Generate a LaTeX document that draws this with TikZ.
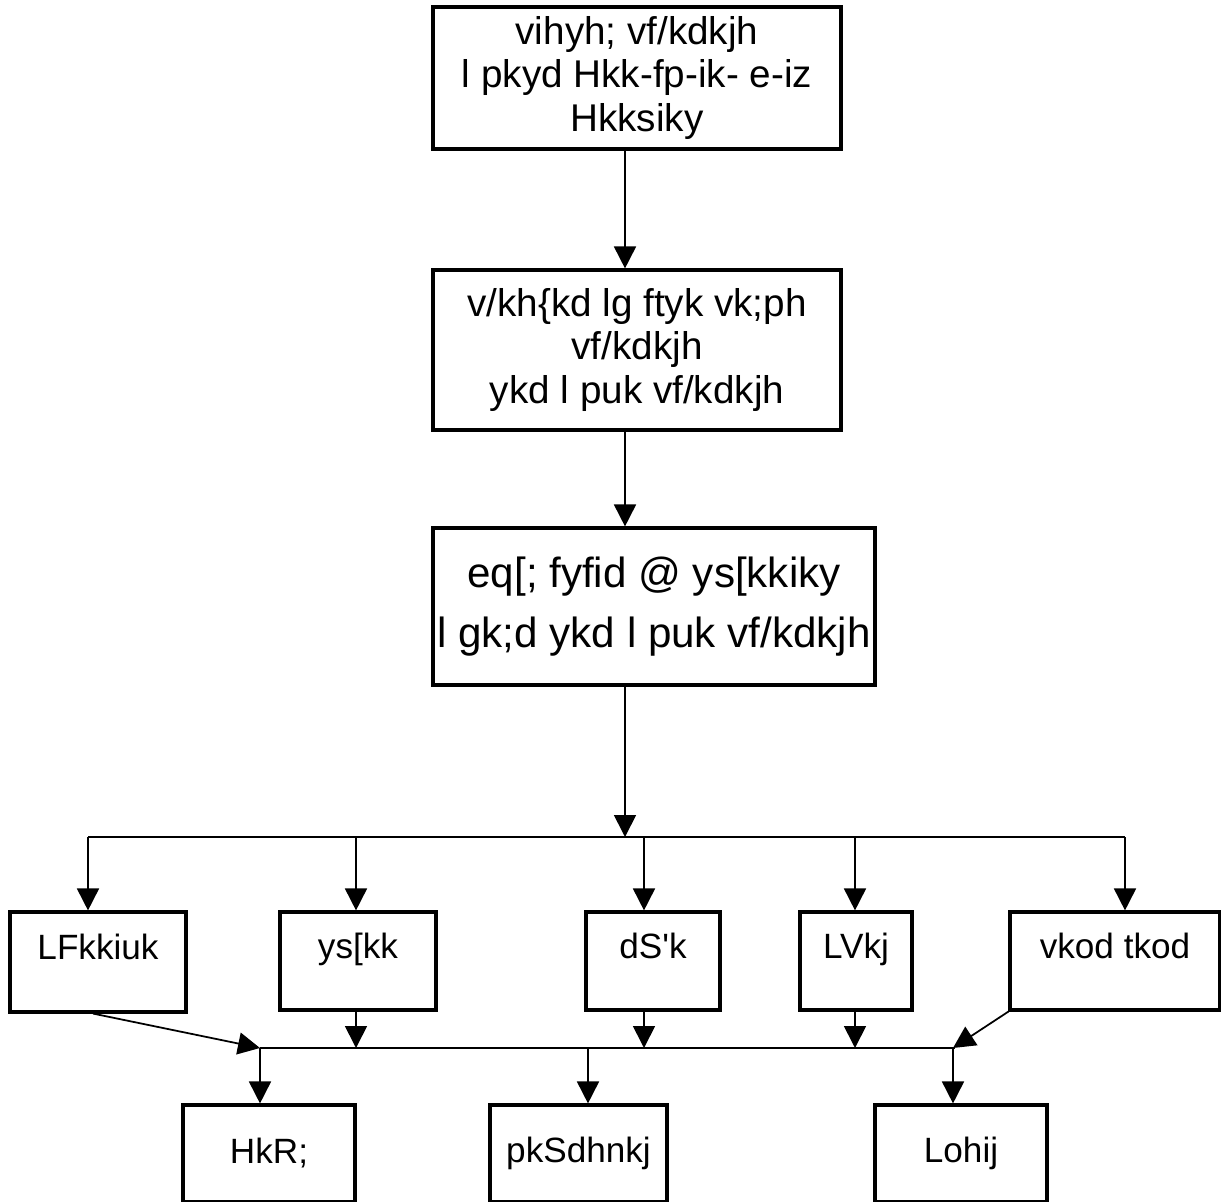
\documentclass[tikz,border=0pt]{standalone}
\usepackage{fontspec}
\setmainfont{Liberation Sans}
\usetikzlibrary{arrows.meta}
\tikzset{
    box/.style={rectangle, draw, line width=1.8pt, align=center, inner sep=0mm},
    midbox/.style={box, minimum height=1.96cm, inner ysep=0mm,
        text height=0.92cm, text depth=1.04cm, font=\fontsize{20}{23}\selectfont},
    lowbox/.style={box, minimum height=1.94cm, font=\fontsize{20}{23}\selectfont},
    arr/.style={line width=1pt, -{Triangle[length=0.44cm, width=0.44cm]}},
    ln/.style={line width=1pt}
}

\begin{document}
\begin{tikzpicture}[x=0.02cm, y=-0.02cm]
    \useasboundingbox (0,0) rectangle (1221,1202);

    % upper chain
    \node (off) at (637,78) [box, minimum width=8.16cm, minimum height=2.84cm,
            font=\fontsize{22}{25}\selectfont]
        {vihyh; vf/kdkjh\\l pkyd Hkk-fp-ik- e-iz\\Hkksiky};
    \node (rti) at (637,350) [box, minimum width=8.16cm, minimum height=3.2cm,
            font=\fontsize{22}{25}\selectfont]
        {v/kh\{kd lg ftyk vk;ph\\vf/kdkjh\\ykd l puk vf/kdkjh};
    \node (clk) at (654,606.5) [box, minimum width=8.84cm, minimum height=3.14cm,
            font=\fontsize{24}{34}\selectfont]
        {eq[; fyfid @ ys[kkiky\\l gk;d ykd l puk vf/kdkjh};

    \coordinate (ax) at (625,0);
    \draw (off.south -| ax) edge[arr] (rti.north -| ax);
    \draw (rti.south -| ax) edge[arr] (clk.north -| ax);

    % sections
    \node (st) at (98,962) [midbox, minimum width=3.52cm, minimum height=2cm] {LFkkiuk};
    \node (ls) at (358,961) [midbox, minimum width=3.12cm] {ys[kk};
    \node (cs) at (653,961) [midbox, minimum width=2.68cm] {dS\textquotesingle k};
    \node (sr) at (856,961) [midbox, minimum width=2.24cm] {LVkj};
    \node (vj) at (1115,961) [midbox, minimum width=4.2cm] {vkod tkod};

    \coordinate (ja) at (625,837);
    \coordinate (d1) at (88,837);
    \coordinate (d2) at (356,837);
    \coordinate (d3) at (644,837);
    \coordinate (d4) at (855,837);
    \coordinate (d5) at (1125,837);

    \draw (clk.south -| ja) edge[arr] (ja);
    \draw[ln] (d1) -- (d5);
    \draw (d1) edge[arr] (d1 |- st.north);
    \draw (d2) edge[arr] (d2 |- ls.north);
    \draw (d3) edge[arr] (d3 |- cs.north);
    \draw (d4) edge[arr] (d4 |- sr.north);
    \draw (d5) edge[arr] (d5 |- vj.north);

    % staff
    \node (bh) at (269,1153.5) [lowbox, minimum width=3.44cm] {HkR;};
    \node (ch) at (578.5,1153.5) [lowbox, minimum width=3.54cm] {pkSdhnkj};
    \node (sw) at (961,1153.5) [lowbox, minimum width=3.44cm] {Lohij};

    \coordinate (f1) at (93,0);
    \coordinate (g1) at (260,1048);
    \coordinate (g2) at (356,1048);
    \coordinate (g3) at (644,1048);
    \coordinate (g4) at (855,1048);
    \coordinate (g5) at (955,1048);
    \coordinate (h2) at (588,1048);
    \coordinate (h3) at (953,1048);

    \draw[ln] (g1) -- (g5);
    \draw (st.south -| f1) edge[arr] (g1);
    \draw (ls.south -| g2) edge[arr] (g2);
    \draw (cs.south -| g3) edge[arr] (g3);
    \draw (sr.south -| g4) edge[arr] (g4);
    \draw (vj.south west) edge[arr] (h3);

    \draw (g1) edge[arr] (g1 |- bh.north);
    \draw (h2) edge[arr] (h2 |- ch.north);
    \draw (h3) edge[arr] (h3 |- sw.north);
\end{tikzpicture}
\end{document}
